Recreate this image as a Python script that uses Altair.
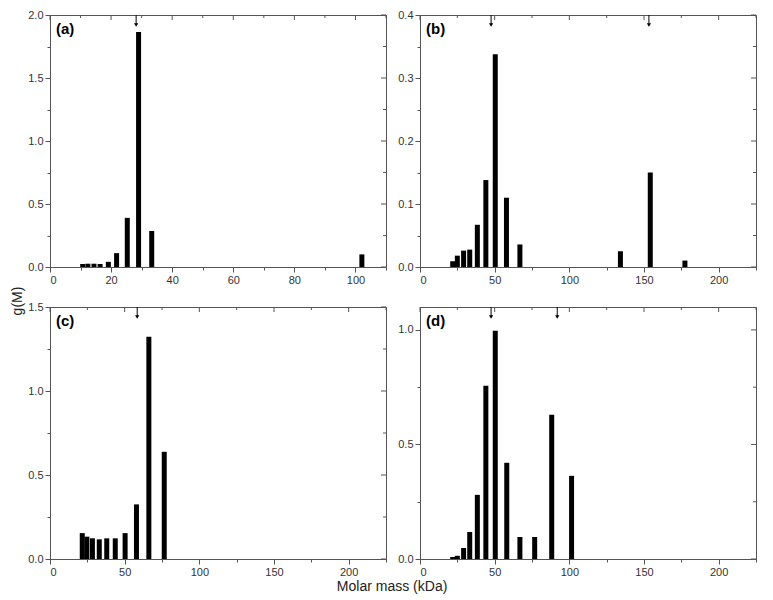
import altair as alt
import pandas as pd

# ---- data ----
a_mass = [10.7, 12.4, 14.4, 16.4, 19.1, 21.8, 25.3, 29.0, 33.3, 102.1]
a_g = [0.024, 0.026, 0.026, 0.024, 0.041, 0.11, 0.39, 1.865, 0.286, 0.10]
a_arrows = [28.2]

b_mass = [21.9, 25.0, 29.2, 33.3, 38.4, 44.1, 50.4, 57.9, 66.9, 134.2, 154.2, 177.4]
b_g = [0.0092, 0.018, 0.026, 0.0276, 0.067, 0.138, 0.3376, 0.110, 0.0358, 0.025, 0.150, 0.0102]
b_arrows = [47.6, 153.3]

c_mass = [21.6, 24.7, 28.4, 33.0, 38.0, 43.7, 50.3, 57.9, 66.2, 76.5]
c_g = [0.154, 0.133, 0.123, 0.117, 0.123, 0.123, 0.154, 0.325, 1.323, 0.638]
c_arrows = [58.4]

d_mass = [21.9, 25.0, 29.2, 33.3, 38.4, 44.1, 50.4, 58.1, 66.9, 76.8, 88.2, 101.5]
d_g = [0.0085, 0.014, 0.048, 0.118, 0.28, 0.756, 0.996, 0.42, 0.096, 0.096, 0.63, 0.363]
d_arrows = [47.6, 91.9]

# tick values
x_major_a = [0, 20, 40, 60, 80, 100]
x_minor_a = [10, 30, 50, 70, 90, 110]
x_major_w = [0, 50, 100, 150, 200]
x_minor_w = [25, 75, 125, 175, 225]
y_major_a = [0, 0.5, 1.0, 1.5, 2.0]
y_minor_a = [0.25, 0.75, 1.25, 1.75]
y_major_b = [0, 0.1, 0.2, 0.3, 0.4]
y_minor_b = [0.05, 0.15, 0.25, 0.35]
y_major_c = [0, 0.5, 1.0, 1.5]
y_minor_c = [0.25, 0.75, 1.25]
y_major_d = [0, 0.5, 1.0]
y_minor_d = [0.25, 0.75]

W = 336
H = 252
FONT = "Liberation Sans"
TICK = "#555"


def main_axis(major, minor, fmt):
    lst = ",".join(str(v) for v in major)
    return alt.Axis(
        values=sorted(major + minor),
        format=fmt,
        labelExpr=f"indexof([{lst}], datum.value) >= 0 ? datum.label : ''",
        tickSize={"condition": {"test": f"indexof([{lst}], datum.value) >= 0", "value": 5}, "value": 3},
        title=None,
        grid=False,
        labelPadding=2,
    )


def panel(mass, g, arrows, label, xmax, xmajor, xminor, xfmt, ymax, ymajor, yminor):
    df = pd.DataFrame({"mass": mass, "g": g})
    xs = alt.Scale(domain=[0, xmax], nice=False, zero=False, padding=0)
    ys = alt.Scale(domain=[0, ymax], nice=False, zero=False, padding=0)
    xax = main_axis(xmajor, xminor, xfmt)
    yax = main_axis(ymajor, yminor, ".1f")
    bars = alt.Chart(df).mark_bar(size=5, color="black").encode(
        x=alt.X("mass:Q", scale=xs, axis=xax),
        y=alt.Y("g:Q", scale=ys, axis=yax),
    )
    xt = pd.DataFrame({"v": xmajor + xminor, "len": [5] * len(xmajor) + [3] * len(xminor)})
    yt = pd.DataFrame({"v": ymajor + yminor, "len": [5] * len(ymajor) + [3] * len(yminor)})
    top_major = alt.Chart(xt).transform_filter("datum.len == 5").mark_rule(color=TICK).encode(
        x=alt.X("v:Q", scale=xs, axis=xax), y=alt.value(0), y2=alt.value(5))
    top_minor = alt.Chart(xt).transform_filter("datum.len == 3").mark_rule(color=TICK).encode(
        x=alt.X("v:Q", scale=xs, axis=xax), y=alt.value(0), y2=alt.value(3))
    right_major = alt.Chart(yt).transform_filter("datum.len == 5").mark_rule(color=TICK).encode(
        y=alt.Y("v:Q", scale=ys, axis=yax), x=alt.value(W), x2=alt.value(W - 5))
    right_minor = alt.Chart(yt).transform_filter("datum.len == 3").mark_rule(color=TICK).encode(
        y=alt.Y("v:Q", scale=ys, axis=yax), x=alt.value(W), x2=alt.value(W - 3))
    adf = pd.DataFrame({"m": arrows})
    shaft = alt.Chart(adf).mark_rule(color="black", strokeWidth=1).encode(
        x=alt.X("m:Q", scale=xs, axis=xax),
        y=alt.value(0),
        y2=alt.value(9),
    )
    head = alt.Chart(adf).mark_point(shape="triangle-down", filled=True, size=18, color="black", opacity=1).encode(
        x=alt.X("m:Q", scale=xs, axis=xax),
        y=alt.value(10),
    )
    txt = alt.Chart(pd.DataFrame({"t": [label]})).mark_text(
        align="left", baseline="middle", font=FONT, fontSize=15, fontWeight="bold", color="black"
    ).encode(text="t:N", x=alt.value(6), y=alt.value(14))
    return alt.layer(
        bars, top_major, top_minor, right_major, right_minor, shaft, head, txt
    ).properties(width=W, height=H)


pa = panel(a_mass, a_g, a_arrows, "(a)", 110, x_major_a, x_minor_a, "d", 2.0, y_major_a, y_minor_a)
pb = panel(b_mass, b_g, b_arrows, "(b)", 225, x_major_w, x_minor_w, "d", 0.4, y_major_b, y_minor_b)
pc = panel(c_mass, c_g, c_arrows, "(c)", 225, x_major_w, x_minor_w, "d", 1.5, y_major_c, y_minor_c)
pd_ = panel(d_mass, d_g, d_arrows, "(d)", 225, x_major_w, x_minor_w, "d", 1.1, y_major_d, y_minor_d)

grid = alt.vconcat(
    alt.hconcat(pa, pb, spacing=10),
    alt.hconcat(pc, pd_, spacing=10),
    spacing=14,
).properties(
    title=alt.TitleParams(
        "Molar mass (kDa)", orient="bottom", anchor="middle", font=FONT,
        fontSize=14, fontWeight="normal", color="#222", offset=2
    )
)

chart = alt.hconcat(grid).properties(
    padding={"left": 3, "top": 0, "right": 0, "bottom": 0},
    title=alt.TitleParams(
        "g(M)", orient="left", anchor="middle", font=FONT,
        fontSize=14, fontWeight="normal", color="#222", offset=2
    ),
).configure_view(stroke="#555", strokeWidth=1).configure_axis(
    labelFont=FONT, labelFontSize=11, labelColor="#333",
    domainColor="#555", tickColor=TICK,
).configure_concat(spacing=0)

chart.save("out.html", embed_options={"renderer": "svg", "actions": False})
